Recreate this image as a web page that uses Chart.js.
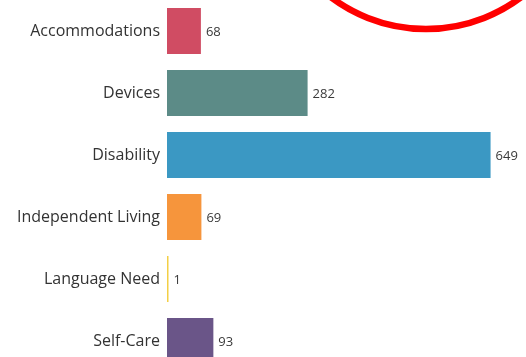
<!DOCTYPE html>
<html>
<head>
<meta charset="utf-8">
<script src="https://cdn.jsdelivr.net/npm/chart.js@4/dist/chart.umd.min.js"></script>
<style>
  html, body { margin: 0; padding: 0; background: #fff; overflow: hidden; }
  #wrap { width: 526px; height: 372px; }
</style>
</head>
<body>
<div id="wrap"><canvas id="chart" width="526" height="372"></canvas></div>
<script>
// categorias e valores
const categorias = ['Accommodations', 'Devices', 'Disability', 'Independent Living', 'Language Need', 'Self-Care'];
const valores = [68, 282, 649, 69, 1, 93];
const cores = ['#d04c63', '#5c8b87', '#3b98c3', '#f6953c', '#f3cf46', '#6a5588'];

// rótulos de valor no fim de cada barra
const rotulosValor = {
    id: 'rotulosValor',
    afterDatasetsDraw(chart) {
        const ctx = chart.ctx;
        const meta = chart.getDatasetMeta(0);
        ctx.save();
        ctx.font = '500 13px "Open Sans"';
        ctx.fillStyle = '#3a3a3a';
        ctx.textAlign = 'left';
        ctx.textBaseline = 'middle';
        meta.data.forEach((bar, i) => {
            ctx.fillText(valores[i], Math.max(bar.x, bar.base + 1) + 5, bar.y + 1);
        });
        ctx.restore();
    }
};

// círculo vermelho de destaque (anotação no canto)
const circuloDestaque = {
    id: 'circuloDestaque',
    afterDraw(chart) {
        const ctx = chart.ctx;
        ctx.save();
        ctx.strokeStyle = '#ff0000';
        ctx.lineWidth = 6.5;
        ctx.beginPath();
        ctx.arc(chart.chartArea.right - 90, -129, 158, 0, Math.PI * 2);
        ctx.stroke();
        ctx.restore();
    }
};

new Chart(document.getElementById('chart').getContext('2d'), {
    type: 'bar',
    data: {
        labels: categorias,
        datasets: [{
            data: valores,
            backgroundColor: cores,
            categoryPercentage: 1,
            barPercentage: 0.74,
            minBarLength: 1.5
        }]
    },
    options: {
        indexAxis: 'y',
        responsive: false,
        animation: false,
        layout: { padding: { top: 0, bottom: 0, left: 0, right: 10 } },
        plugins: {
            legend: { display: false },
            tooltip: { enabled: false }
        },
        scales: {
            x: {
                display: false,
                min: 0,
                max: 700
            },
            y: {
                afterFit: (scale) => {
                    scale.width = 167;
                    scale.paddingTop = 0;
                    scale.paddingBottom = 0;
                },
                grid: { display: false, drawTicks: false },
                border: { display: false },
                ticks: {
                    padding: 7,
                    color: '#333',
                    font: { family: '"Open Sans"', size: 16, weight: '500' }
                }
            }
        }
    },
    plugins: [rotulosValor, circuloDestaque]
});
</script>
</body>
</html>
